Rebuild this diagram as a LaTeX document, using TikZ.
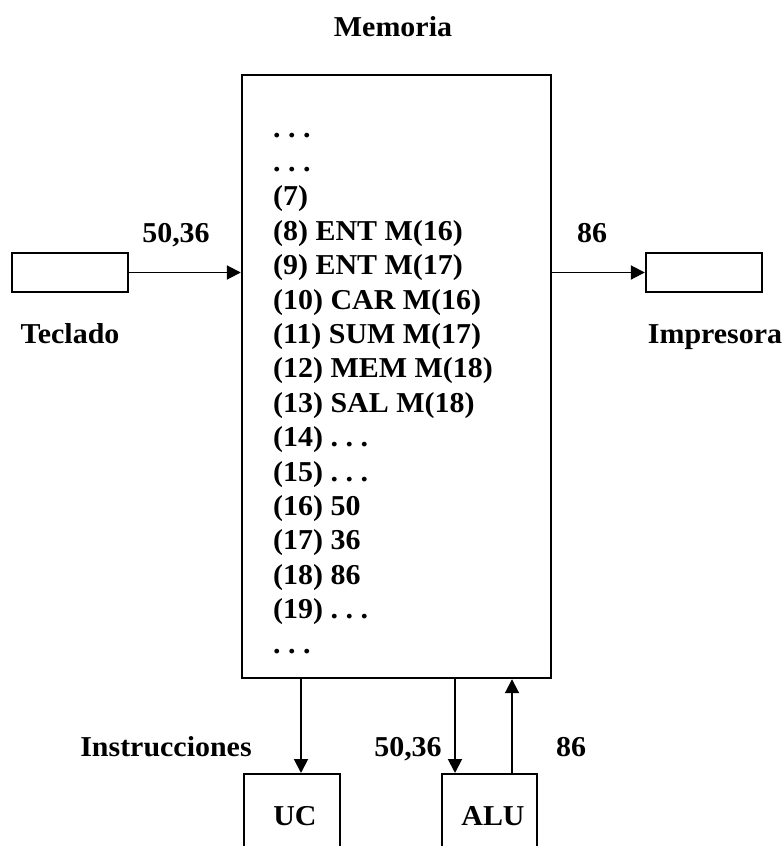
\documentclass[tikz,border=0pt]{standalone}
\usepackage{fontspec}
\setmainfont[FakeStretch=1.04]{Liberation Serif}
\usetikzlibrary{arrows.meta}
\begin{document}
\begin{tikzpicture}[x=1pt,y=-1pt,
  txt/.style={font=\fontsize{28.8}{34}\selectfont\bfseries, inner sep=0pt},
  box/.style={draw, line width=2.4pt, rectangle, inner sep=0pt},
  arr/.style={line width=1.9pt, -{Triangle[length=14pt,width=14pt]}}]
\clip (0,0) rectangle (784,846);
\useasboundingbox (0,0) rectangle (784,846);
\fill[white] (0,0) rectangle (784,846);

% memory block
\node[box, minimum width=309pt, minimum height=603pt] (mem) at (396.5,376.5) {};
\node[txt] (memt) at (393,27) {Memoria};

% contents of memory, one cell per line
\foreach \t [count=\i from 0] in {{.~.~.},{.~.~.},(7),(8) ENT M(16),(9) ENT M(17),(10) CAR M(16),(11) SUM M(17),(12) MEM M(18),(13) SAL M(18),(14)~.~.~.,(15)~.~.~.,(16) 50,(17) 36,(18) 86,(19)~.~.~.,{.~.~.}}
  \node[txt, anchor=base west] (cell\i) at (273,137+34.4*\i) {\t};

% keyboard and printer
\node[box, minimum width=116pt, minimum height=39pt] (kb) at (70,272.5) {};
\node[box, minimum width=116pt, minimum height=39pt] (pr) at (704,272.5) {};
\node[txt, anchor=base] (kbt) at (70,343) {Teclado};
\node[txt, anchor=base] (prt) at (715,343) {Impresora};
\node[txt, anchor=base] (inval) at (176,242) {50,36};
\node[txt, anchor=base] (outval) at (592,242) {86};
\draw[arr] (kb.east) -- (kb.east -| mem.west);
\draw[arr] (pr.west -| mem.east) -- (pr.west);

% control unit and ALU
\node[box, minimum width=96pt, minimum height=140pt, anchor=north west] (uc) at (243,773) {};
\node[box, minimum width=95pt, minimum height=140pt, anchor=north west] (alu) at (441,773) {};
\node[txt, anchor=base] (uct) at (295,825) {UC};
\node[txt, anchor=base] (alut) at (493,825) {ALU};
\coordinate (ucin) at (301,773);
\coordinate (aluin) at (455,773);
\coordinate (aluout) at (512,773);
\draw[arr] (ucin |- mem.south) -- (ucin);
\draw[arr] (aluin |- mem.south) -- (aluin);
\draw[arr] (aluout) -- (aluout |- mem.south);
\node[txt, anchor=base] (instr) at (166,756) {Instrucciones};
\node[txt, anchor=base] (aluinv) at (408,756) {50,36};
\node[txt, anchor=base] (aluoutv) at (571,756) {86};
\end{tikzpicture}
\end{document}
